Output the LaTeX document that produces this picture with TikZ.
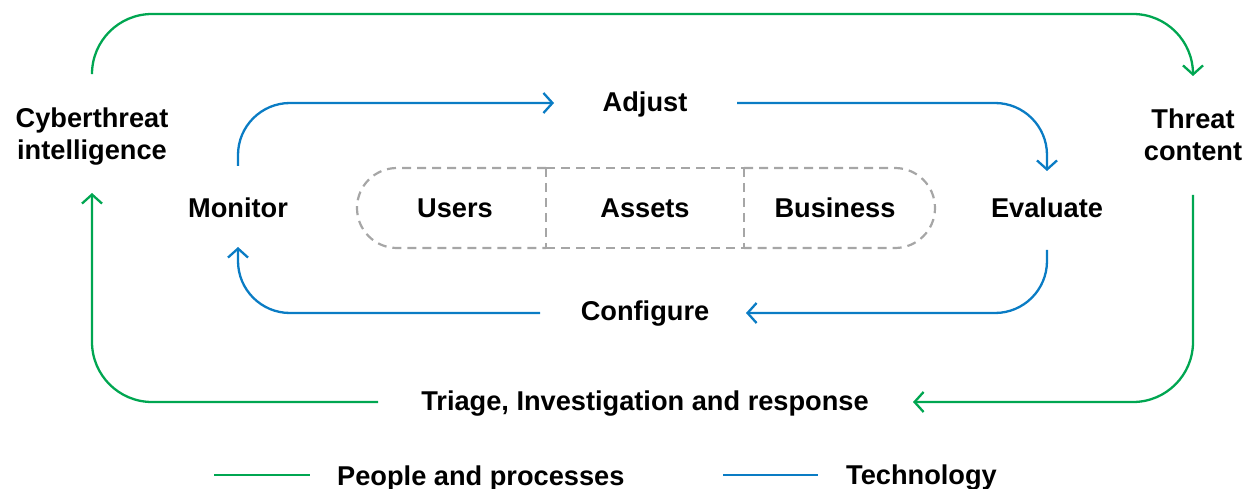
\documentclass[tikz,border=0pt]{standalone}
\usepackage{fontspec}
\setmainfont{Liberation Sans}
\usetikzlibrary{arrows.meta}
\definecolor{pgreen}{HTML}{00A651}
\definecolor{tblue}{HTML}{0A7CC4}
\tikzstyle{txt} = [font=\bfseries\fontsize{27.2}{32}\selectfont, align=center, inner sep=0pt, text=black]
\tikzstyle{flowg} = [draw=pgreen, line width=2.3pt, rounded corners=60pt, -{Straight Barb[length=9pt,width=20pt]}]
\tikzstyle{flowb} = [draw=tblue, line width=2.3pt, rounded corners=52pt, -{Straight Barb[length=9pt,width=20pt]}]
\tikzstyle{dash line} = [draw=black!35, line width=2.2pt, dash pattern=on 9pt off 6pt]

\begin{document}
\begin{tikzpicture}[x=1pt,y=-1pt]
    \useasboundingbox (0,0) rectangle (1245,489);
    \node (cti) [txt] at (92,137) {Cyberthreat\\intelligence};
    \node (threat) [txt] at (1193,135) {Threat\\content};
    \node (adjust) [txt] at (645,104) {Adjust};
    \node (monitor) [txt] at (238,208) {Monitor};
    \node (evaluate) [txt] at (1047,208) {Evaluate};
    \node (configure) [txt] at (645,314) {Configure};
    \node (triage) [txt] at (645,404) {Triage, Investigation and response};
    \node (users) [txt] at (455,208) {Users};
    \node (assets) [txt] at (645,208) {Assets};
    \node (business) [txt] at (835,208) {Business};
    \node (people) [txt, anchor=west] at (337,478) {People and processes};
    \node (tech) [txt, anchor=west] at (846,478) {Technology};
    \coordinate (a1) at (92,72);
    \coordinate (a2) at (1193,76);
    \coordinate (b1) at (1193,195);
    \coordinate (b2) at (913,402);
    \coordinate (c1) at (378,402);
    \coordinate (c2) at (92,193);
    \coordinate (d1) at (238,166);
    \coordinate (d2) at (554,103);
    \coordinate (e1) at (737,103);
    \coordinate (e2) at (1047,171);
    \coordinate (f1) at (1047,250);
    \coordinate (f2) at (746,313);
    \coordinate (g1) at (540,313);
    \coordinate (g2) at (238,247);
    \draw [flowg] (a1) |- (642,14) -| (a2);
    \draw [flowg] (b1) |- (b2);
    \draw [flowg] (c1) -| (c2);
    \draw [flowb] (d1) |- (d2);
    \draw [flowb] (e1) -| (e2);
    \draw [flowb] (f1) |- (f2);
    \draw [flowb] (g1) -| (g2);
    \draw [dash line, rounded corners=40pt] (546,168) -- (357,168) -- (357,248) -- (546,248);
    \draw [dash line] (546,248) -- (744,248);
    \draw [dash line] (546,168) -- (744,168);
    \draw [dash line, rounded corners=40pt] (744,168) -- (935,168) -- (935,248) -- (744,248);
    \draw [dash line] (546,168) -- (546,248);
    \draw [dash line] (744,168) -- (744,248);
    \coordinate (p1) at (214,475);
    \coordinate (p2) at (310,475);
    \coordinate (t1) at (723,475);
    \coordinate (t2) at (818,475);
    \draw [draw=pgreen, line width=2.3pt] (p1) -- (p2);
    \draw [draw=tblue, line width=2.3pt] (t1) -- (t2);
\end{tikzpicture}
\end{document}
